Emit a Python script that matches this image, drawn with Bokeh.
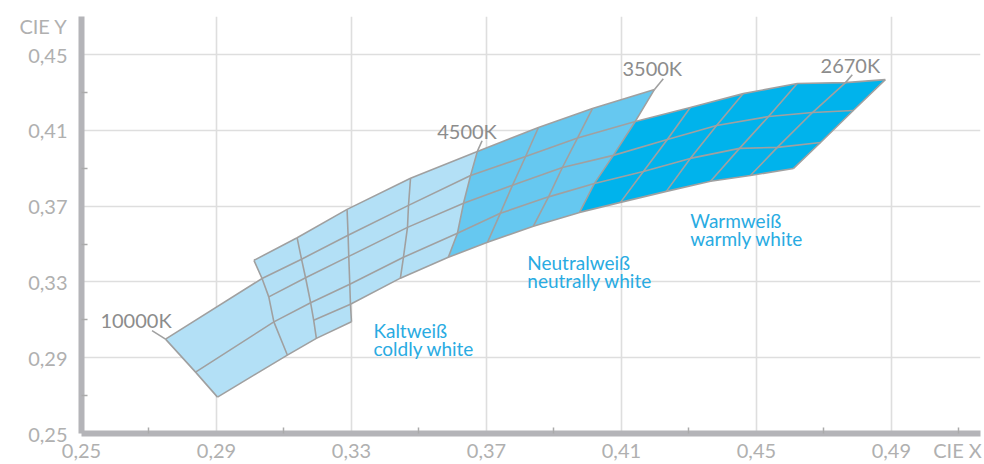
from bokeh.plotting import figure
from bokeh.models import FixedTicker, Range1d
from bokeh.embed import file_html
from bokeh.resources import INLINE
from bokeh.core.properties import value

N = None
# Isotherm lines (CIE x, CIE y) at six Duv levels 0..5 (None = level not present)
iso_names = ["10000K", "c1", "c2", "c3", "c4", "4500K", "n1", "n2", "3500K",
             "w1", "w2", "w3", "2670K", "w5"]
iso_x = [
    [N, 0.2749, N, 0.2838, N, 0.2903],
    [0.3011, 0.3035, 0.3055, 0.3070, N, 0.3110],
    [0.3139, 0.3152, 0.3164, 0.3179, 0.3188, 0.3196],
    [0.3287, 0.3290, 0.3292, 0.3295, 0.3297, 0.3300],
    [0.3475, 0.3469, 0.3466, 0.3454, 0.3445, N],
    [0.3673, 0.3653, 0.3632, 0.3614, 0.3587, N],
    [0.3854, 0.3816, 0.3777, 0.3741, 0.3703, N],
    [0.4014, 0.3970, 0.3925, 0.3884, 0.3839, N],
    [0.4198, 0.4141, 0.4076, 0.4020, 0.3976, N],
    [N, 0.4304, 0.4236, 0.4165, 0.4097, N],
    [N, 0.4461, 0.4382, 0.4304, 0.4233, N],
    [N, 0.4621, 0.4536, 0.4450, 0.4364, N],
    [N, 0.4764, 0.4666, 0.4562, 0.4482, N],
    [N, 0.4882, 0.4787, 0.4690, 0.4610, N],
]
iso_y = [
    [N, 0.2998, N, 0.2824, N, 0.2692],
    [0.3414, 0.3318, 0.3221, 0.3089, N, 0.2914],
    [0.3533, 0.3420, 0.3322, 0.3190, 0.3098, 0.3002],
    [0.3683, 0.3546, 0.3435, 0.3288, 0.3182, 0.3090],
    [0.3847, 0.3704, 0.3588, 0.3430, 0.3320, N],
    [0.3989, 0.3862, 0.3715, 0.3557, 0.3430, N],
    [0.4115, 0.3962, 0.3810, 0.3662, 0.3509, N],
    [0.4215, 0.4060, 0.3904, 0.3749, 0.3594, N],
    [0.4316, 0.4147, 0.3968, 0.3820, 0.3667, N],
    [N, 0.4221, 0.4052, 0.3883, 0.3720, N],
    [N, 0.4294, 0.4126, 0.3952, 0.3778, N],
    [N, 0.4347, 0.4173, 0.4005, 0.3831, N],
    [N, 0.4352, 0.4194, 0.4010, 0.3862, N],
    [N, 0.4368, 0.4205, 0.4036, 0.3899, N],
]
# zone of each gap between consecutive isotherms
gap_zone = ["cold"] * 5 + ["neutral"] * 3 + ["warm"] * 5
zone_colors = {"cold": "#b3e0f6", "neutral": "#66c8f0", "warm": "#00b3ec"}

# temperature labels
temp_labels = ["10000K", "4500K", "3500K", "2670K"]
temp_iso = [0, 5, 8, 12]
leader_x = [0.2709, 0.3687, 0.4224, 0.4784]
leader_y = [0.3043, 0.4045, 0.4373, 0.4394]
temp_label_x = [0.2556, 0.3554, 0.4103, 0.4690]
temp_label_y = [0.3099, 0.4096, 0.4428, 0.4447]

# zone names
zone_text = ["Kaltweiß", "coldly white", "Neutralweiß", "neutrally white",
             "Warmweiß", "warmly white"]
zone_text_x = [0.3365, 0.3365, 0.3821, 0.3821, 0.4304, 0.4304]
zone_text_y = [0.3042, 0.2947, 0.3402, 0.3307, 0.3624, 0.3529]

# axes
x_ticks = [0.25, 0.29, 0.33, 0.37, 0.41, 0.45, 0.49]
x_tick_labels = ["0,25", "0,29", "0,33", "0,37", "0,41", "0,45", "0,49"]
x_minor = [0.27, 0.31, 0.35, 0.39, 0.43, 0.47, 0.51]
y_ticks = [0.25, 0.29, 0.33, 0.37, 0.41, 0.45]
y_tick_labels = ["0,25", "0,29", "0,33", "0,37", "0,41", "0,45"]
y_minor = [0.27, 0.31, 0.35, 0.39, 0.43]
x_name, x_name_pos = "CIE X", 0.5096
y_name, y_name_pos = "CIE Y", 0.4650


def pts(k, a, b):
    return [(iso_x[k][j], iso_y[k][j]) for j in range(a, b + 1) if iso_x[k][j] is not None]


cell_xs, cell_ys, cell_col = [], [], []
for k in range(len(iso_x) - 1):
    common = [j for j in range(6) if iso_x[k][j] is not None and iso_x[k + 1][j] is not None]
    for a, b in zip(common[:-1], common[1:]):
        poly = pts(k + 1, a, b) + pts(k, a, b)[::-1]
        cell_xs.append([q[0] for q in poly])
        cell_ys.append([q[1] for q in poly])
        cell_col.append(zone_colors[gap_zone[k]])

line_xs, line_ys = [], []
for k in range(len(iso_x)):
    pp = pts(k, 0, 5)
    line_xs.append([q[0] for q in pp])
    line_ys.append([q[1] for q in pp])
for j in range(6):
    run = []
    for k in range(len(iso_x) + 1):
        if k < len(iso_x) and iso_x[k][j] is not None:
            run.append(k)
        else:
            if len(run) > 1:
                line_xs.append([iso_x[i][j] for i in run])
                line_ys.append([iso_y[i][j] for i in run])
            run = []
# leaders
for i, k in enumerate(temp_iso):
    first = next(j for j in range(6) if iso_x[k][j] is not None)
    line_xs.append([leader_x[i], iso_x[k][first]])
    line_ys.append([leader_y[i], iso_y[k][first]])

p = figure(width=984, height=464, output_backend="svg", toolbar_location=None,
           x_range=Range1d(0.25, 0.5164), y_range=Range1d(0.25, 0.4701),
           min_border_left=81, min_border_right=4, min_border_top=16, min_border_bottom=31)
p.outline_line_color = None
p.background_fill_color = "white"

gc = "#dedede"
p.xgrid.ticker = FixedTicker(ticks=x_ticks[1:])
p.ygrid.ticker = FixedTicker(ticks=y_ticks[1:])
p.grid.grid_line_color = gc
p.grid.grid_line_width = 1.6

p.xaxis.ticker = FixedTicker(ticks=x_ticks + [x_name_pos], minor_ticks=x_minor)
p.yaxis.ticker = FixedTicker(ticks=y_ticks + [y_name_pos], minor_ticks=y_minor)
xo = dict(zip(x_ticks, x_tick_labels)); xo[x_name_pos] = x_name
yo = dict(zip(y_ticks, y_tick_labels)); yo[y_name_pos] = y_name
p.xaxis.major_label_overrides = xo
p.yaxis.major_label_overrides = yo
for ax in (p.xaxis, p.yaxis):
    ax.axis_line_color = "#b4b4b8"
    ax.axis_line_width = 6
    ax.major_tick_in = 0
    ax.major_tick_out = 0
    ax.minor_tick_in = 6
    ax.minor_tick_out = 0
    ax.minor_tick_line_color = "#aaaaaa"
    ax.minor_tick_line_width = 1.5
    ax.major_label_text_font = "Lato"
    ax.major_label_text_font_size = "20px"
    ax.major_label_text_color = "#b0b0b0"
p.yaxis.major_label_standoff = 14
p.xaxis.major_label_standoff = 4

p.patches(cell_xs, cell_ys, fill_color=cell_col, line_color=None)
p.multi_line(line_xs, line_ys, line_color="#a0a0a0", line_width=1.6, line_join="round")

p.text(temp_label_x, temp_label_y, text=temp_labels, text_font=value("Lato"),
       text_font_size="20px", text_color="#8c8c8c", text_baseline="alphabetic",
       text_align="left")
p.text(zone_text_x, zone_text_y, text=zone_text, text_font=value("Lato"),
       text_font_size="19px", text_color="#29abe2", text_baseline="alphabetic",
       text_align="left")

open("out.html", "w").write(file_html(p, INLINE))
